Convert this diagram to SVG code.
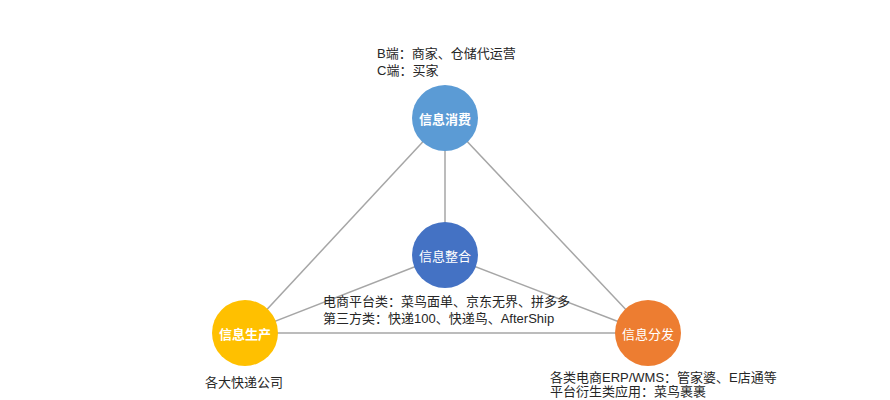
<svg xmlns="http://www.w3.org/2000/svg" width="890" height="400" viewBox="0 0 890 400">
<style>
.ln{stroke:#A6A6A6;stroke-width:1.5;fill:none}
.lb{font-family:"Liberation Sans","Noto Sans CJK SC",sans-serif;font-size:13px;fill:#262626}
.nt{font-family:"Noto Sans CJK SC",sans-serif;font-size:13px;fill:#fff;text-anchor:middle;dominant-baseline:central}
</style>
<rect width="890" height="400" fill="#fff"/>
<g id="connectors">
<line class="ln" x1="445" y1="118" x2="245" y2="333"/>
<line class="ln" x1="445" y1="118" x2="648" y2="333"/>
<line class="ln" x1="445" y1="118" x2="445" y2="255"/>
<line class="ln" x1="445" y1="255" x2="245" y2="333"/>
<line class="ln" x1="445" y1="255" x2="648" y2="333"/>
<line class="ln" x1="245" y1="333" x2="648" y2="333"/>
</g>
<g id="node-consume">
<circle cx="445" cy="118" r="33" fill="#5B9BD5"/>
<text class="nt" x="445" y="118" font-weight="bold">信息消费</text>
<text class="lb" x="377" y="58">B端：商家、仓储代运营</text>
<text class="lb" x="377" y="75">C端：买家</text>
</g>
<g id="node-integrate">
<circle cx="445" cy="255" r="33" fill="#4472C4"/>
<text class="nt" x="445" y="255">信息整合</text>
<text class="lb" x="323" y="306">电商平台类：菜鸟面单、京东无界、拼多多</text>
<text class="lb" x="323" y="323">第三方类：快递100、快递鸟、AfterShip</text>
</g>
<g id="node-produce">
<circle cx="245" cy="333" r="33" fill="#FFC000"/>
<text class="nt" x="245" y="333" font-weight="bold">信息生产</text>
<text class="lb" x="205" y="387">各大快递公司</text>
</g>
<g id="node-distribute">
<circle cx="648" cy="333" r="33" fill="#ED7D31"/>
<text class="nt" x="648" y="333">信息分发</text>
<text class="lb" x="550" y="382">各类电商ERP/WMS：管家婆、E店通等</text>
<text class="lb" x="550" y="396">平台衍生类应用：菜鸟裹裹</text>
</g>
</svg>
